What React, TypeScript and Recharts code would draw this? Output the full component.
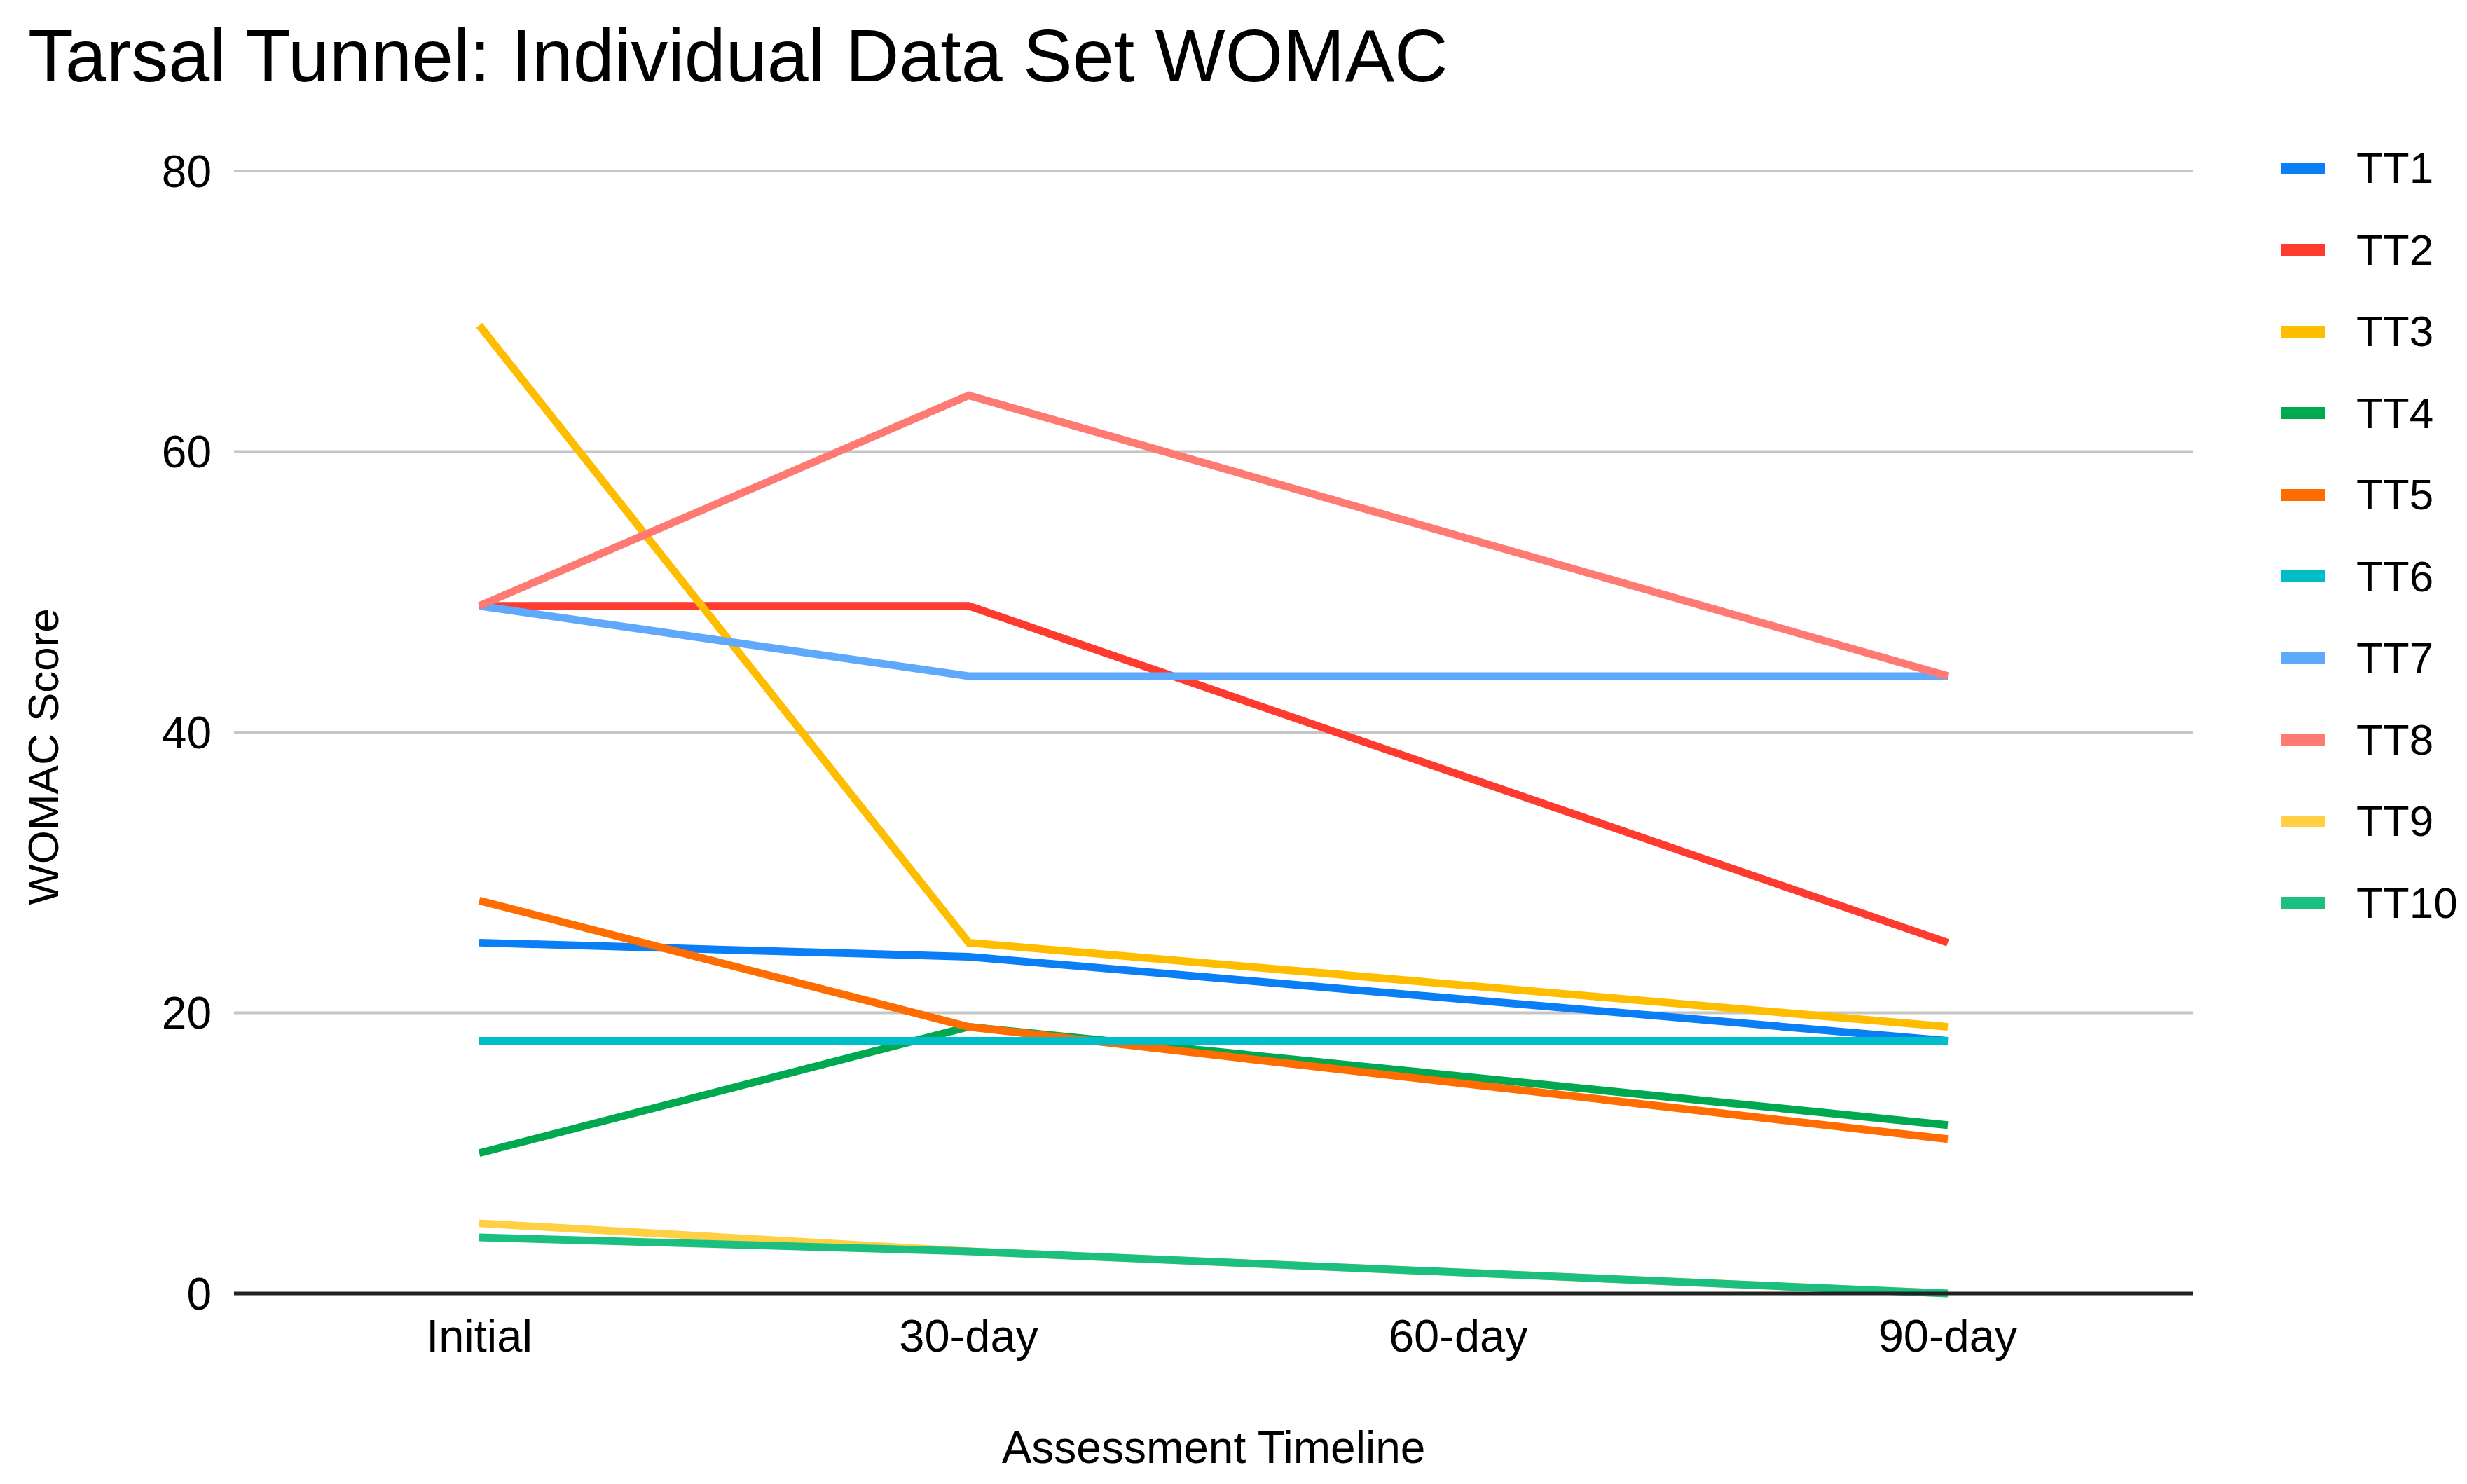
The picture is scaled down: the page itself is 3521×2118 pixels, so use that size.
import React from "react";
import {
  LineChart,
  Line,
  XAxis,
  YAxis,
  CartesianGrid,
  Legend,
} from "recharts";

const W = 3521;
const H = 2118;
const FONT = "'Liberation Sans', Arial, sans-serif";

// ── Data ─────────────────────────────────────────────────────────────────────
const CATEGORIES = ["Initial", "30-day", "60-day", "90-day"];
const Y_TICKS = [0, 20, 40, 60, 80];

const TT1 = [25, 24, null, 18];
const TT2 = [49, 49, null, 25];
const TT3 = [69, 25, null, 19];
const TT4 = [10, 19, null, 12];
const TT5 = [28, 19, null, 11];
const TT6 = [18, 18, null, 18];
const TT7 = [49, 44, null, 44];
const TT8 = [49, 64, null, 44];
const TT9 = [5, 3, null, 0];
const TT10 = [4, 3, null, 0];

const SERIES: { name: string; values: (number | null)[]; color: string }[] = [
  { name: "TT1", values: TT1, color: "#0a7ef5" },
  { name: "TT2", values: TT2, color: "#ff3b30" },
  { name: "TT3", values: TT3, color: "#ffbd00" },
  { name: "TT4", values: TT4, color: "#00a84f" },
  { name: "TT5", values: TT5, color: "#ff6d00" },
  { name: "TT6", values: TT6, color: "#00bec9" },
  { name: "TT7", values: TT7, color: "#5ea9fb" },
  { name: "TT8", values: TT8, color: "#ff7a72" },
  { name: "TT9", values: TT9, color: "#ffd044" },
  { name: "TT10", values: TT10, color: "#1bbf80" },
];

const data = CATEGORIES.map((label, i) => {
  const row: Record<string, string | number | null> = { label };
  SERIES.forEach((s) => {
    row[s.name] = s.values[i];
  });
  return row;
});

// ── Legend (kept in series order, not sorted) ────────────────────────────────
const renderLegend = () => (
  <div style={{ fontFamily: FONT }}>
    {SERIES.map((s) => (
      <div
        key={s.name}
        style={{ height: 116.5, display: "flex", alignItems: "center" }}
      >
        <div
          style={{
            marginLeft: 15,
            width: 63,
            height: 17,
            background: s.color,
          }}
        />
        <span
          style={{
            marginLeft: 45,
            fontSize: 62,
            color: "#000",
            lineHeight: 1,
          }}
        >
          {s.name}
        </span>
      </div>
    ))}
  </div>
);

export default function App() {
  return (
    <div
      style={{
        position: "absolute",
        left: 0,
        top: 0,
        width: W,
        height: H,
        background: "#fff",
      }}
    >
      <LineChart
        width={W}
        height={H}
        data={data}
        margin={{ top: 244, right: 110, bottom: 122, left: 0 }}
      >
        <CartesianGrid vertical={false} stroke="#c6c6c6" strokeWidth={4} />
        <XAxis
          dataKey="label"
          padding={{ left: 350, right: 350 }}
          height={150}
          tickSize={0}
          tickMargin={37}
          tick={{ fontSize: 65, fill: "#000", fontFamily: FONT }}
          axisLine={{ stroke: "#222222", strokeWidth: 5 }}
          tickLine={false}
          interval={0}
        />
        <YAxis
          domain={[0, 80]}
          ticks={Y_TICKS}
          width={334}
          tickSize={0}
          tickMargin={32}
          tick={{ fontSize: 64, fill: "#000", fontFamily: FONT }}
          axisLine={false}
          tickLine={false}
        />
        <Legend
          layout="vertical"
          align="right"
          verticalAlign="top"
          content={renderLegend}
          wrapperStyle={{ position: "absolute", left: 3240, top: 182, width: 281 }}
        />
        {SERIES.map((s) => (
          <Line
            key={s.name}
            type="linear"
            dataKey={s.name}
            name={s.name}
            stroke={s.color}
            strokeWidth={11}
            dot={false}
            activeDot={false}
            connectNulls
            isAnimationActive={false}
          />
        ))}
      </LineChart>
      <svg
        width={W}
        height={H}
        style={{ position: "absolute", left: 0, top: 0, pointerEvents: "none" }}
      >
        <text x={40} y={116} fontSize={106} fontFamily={FONT} fill="#000">
          Tarsal Tunnel: Individual Data Set WOMAC
        </text>
        <text
          x={1732}
          y={2088}
          fontSize={64}
          fontFamily={FONT}
          fill="#000"
          textAnchor="middle"
        >
          Assessment Timeline
        </text>
        <text
          x={83}
          y={1080}
          fontSize={62}
          fontFamily={FONT}
          fill="#000"
          textAnchor="middle"
          transform="rotate(-90 83 1080)"
        >
          WOMAC Score
        </text>
      </svg>
    </div>
  );
}
